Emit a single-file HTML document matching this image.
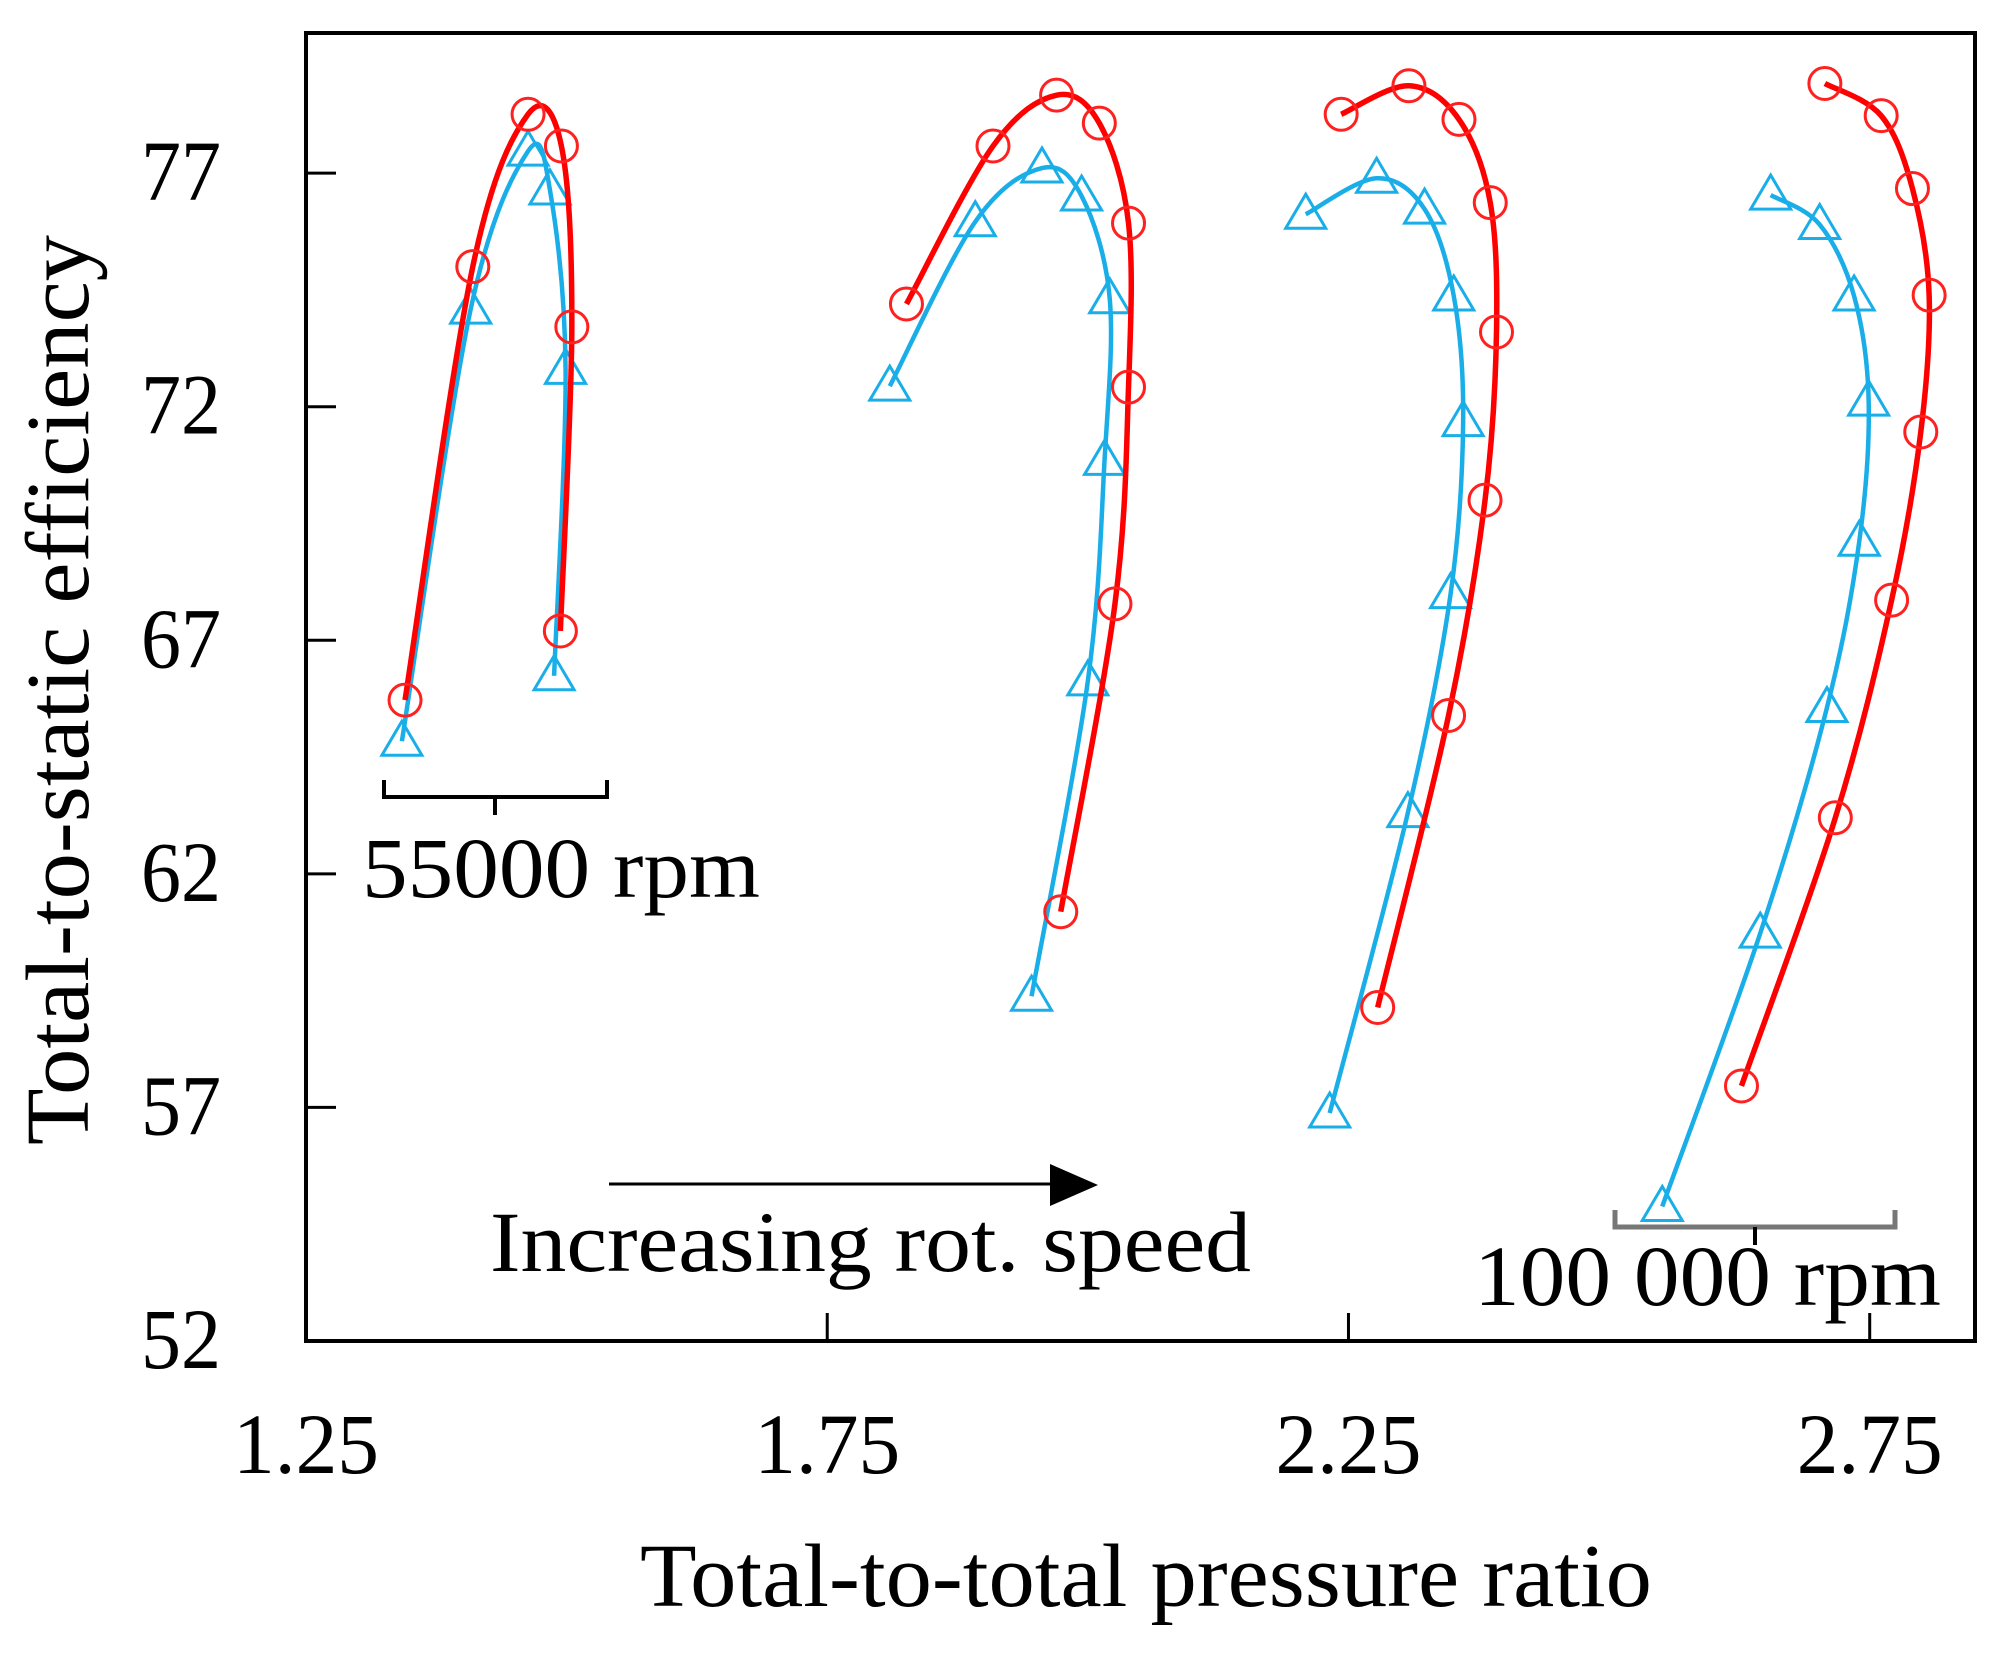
<!DOCTYPE html>
<html><head><meta charset="utf-8"><style>
html,body{margin:0;padding:0;background:#fff;}
svg{display:block;}
text{font-family:"Liberation Serif",serif;fill:#000;}
</style></head><body>
<svg id="chart" width="2012" height="1663" viewBox="0 0 2012 1663" xmlns="http://www.w3.org/2000/svg">
<rect x="306" y="33" width="1669" height="1308" fill="none" stroke="#000" stroke-width="4"/>
<g id="axes"></g>
<g id="series"></g>
<text transform="translate(88,1145) rotate(-90)" font-size="90" textLength="910" lengthAdjust="spacingAndGlyphs">Total-to-static efficiency</text>
<text x="640" y="1606" font-size="90" textLength="1012" lengthAdjust="spacingAndGlyphs">Total-to-total pressure ratio</text>
<g stroke="#000" stroke-width="4" fill="none">
<path d="M384 780 V797 H607 V780 M495 797 V815"/>
</g>
<text x="362" y="897" font-size="86" textLength="398" lengthAdjust="spacingAndGlyphs">55000 rpm</text>
<g stroke="#777" stroke-width="5" fill="none">
<path d="M1615 1210 V1227 H1895 V1210"/>
</g>
<path d="M1755 1227 V1245" stroke="#000" stroke-width="4"/>
<text x="1474" y="1305" font-size="86" textLength="467" lengthAdjust="spacingAndGlyphs">100 000 rpm</text>
<line x1="609" y1="1184" x2="1058" y2="1184" stroke="#000" stroke-width="3"/>
<polygon points="1050,1164 1098,1185 1050,1206" fill="#000"/>
<text x="490" y="1271" font-size="86" textLength="761" lengthAdjust="spacingAndGlyphs">Increasing rot. speed</text>
</svg>
<script>
const xTicks = [1.25, 1.75, 2.25, 2.75];
const xTickLabels = ["1.25", "1.75", "2.25", "2.75"];
const yTicks = [52, 57, 62, 67, 72, 77];
const yTickLabels = ["52", "57", "62", "67", "72", "77"];

const red1x = [1.345, 1.410, 1.463, 1.495, 1.505, 1.494];
const red1y = [65.72, 75.0, 78.26, 77.58, 73.71, 67.20];
const blue1x = [1.342, 1.408, 1.463, 1.484, 1.499, 1.488];
const blue1y = [64.84, 74.09, 77.47, 76.64, 72.80, 66.24];

const red2x = [1.826, 1.909, 1.970, 2.011, 2.039, 2.039, 2.026, 1.974];
const red2y = [74.20, 77.58, 78.67, 78.07, 75.93, 72.42, 67.78, 61.19];
const blue2x = [1.810, 1.892, 1.956, 1.994, 2.021, 2.016, 2.000, 1.946];
const blue2y = [72.44, 75.96, 77.11, 76.51, 74.31, 70.85, 66.13, 59.38];

const red3x = [2.243, 2.308, 2.356, 2.386, 2.392, 2.381, 2.346, 2.278];
const red3y = [78.26, 78.87, 78.15, 76.37, 73.60, 70.0, 65.39, 59.14];
const blue3x = [2.209, 2.277, 2.323, 2.351, 2.360, 2.348, 2.307, 2.232];
const blue3y = [76.12, 76.89, 76.23, 74.37, 71.68, 68.0, 63.31, 56.88];

const red4x = [2.707, 2.761, 2.791, 2.807, 2.799, 2.771, 2.717, 2.627];
const red4y = [78.92, 78.23, 76.67, 74.39, 71.46, 67.86, 63.20, 57.46];
const blue4x = [2.655, 2.702, 2.735, 2.749, 2.740, 2.709, 2.645, 2.551];
const blue4y = [76.53, 75.90, 74.37, 72.12, 69.12, 65.56, 60.73, 54.88];

const NS = "http://www.w3.org/2000/svg";
const X0 = 306, X1 = 1975, Y0 = 1341, Y1 = 33;
const xMin = 1.25, xMax = 2.851, yMin = 52, yMax = 80;
function sx(v){ return X0 + (v - xMin) / (xMax - xMin) * (X1 - X0); }
function sy(v){ return Y0 - (v - yMin) / (yMax - yMin) * (Y0 - Y1); }
function mk(tag, attrs, parent){ const e = document.createElementNS(NS, tag); for (const k in attrs) e.setAttribute(k, attrs[k]); parent.appendChild(e); return e; }

const axes = document.getElementById('axes');
xTicks.forEach((t, i) => {
  const x = sx(t);
  if (i > 0) {
    const tk = mk('line', {x1:x, y1:Y0, x2:x, y2:Y0-28, stroke:'#000', 'stroke-width':3}, axes);
    
    
  }
  const lb = mk('text', {x:x, y:1473, 'font-size':86, 'text-anchor':'middle', textLength:146, lengthAdjust:'spacingAndGlyphs'}, axes);
  lb.textContent = xTickLabels[i];
  
  
});
yTicks.forEach((t, i) => {
  const y = sy(t);
  if (i > 0) {
    const tk = mk('line', {x1:X0, y1:y, x2:X0+30, y2:y, stroke:'#000', 'stroke-width':3}, axes);
    
    
  }
  const lb = mk('text', {x:221, y:y+27, 'font-size':86, 'text-anchor':'end', textLength:80, lengthAdjust:'spacingAndGlyphs'}, axes);
  lb.textContent = yTickLabels[i];
  
  
});

function splinePath(px, py){
  const p = px.map((v, i) => [sx(v), sy(py[i])]);
  let d = 'M' + p[0][0] + ' ' + p[0][1];
  for (let i = 0; i < p.length - 1; i++) {
    const p0 = p[i-1] || p[i], p1 = p[i], p2 = p[i+1], p3 = p[i+2] || p[i+1];
    const c1x = p1[0] + (p2[0]-p0[0])/6, c1y = p1[1] + (p2[1]-p0[1])/6;
    const c2x = p2[0] - (p3[0]-p1[0])/6, c2y = p2[1] - (p3[1]-p1[1])/6;
    d += ' C' + c1x + ' ' + c1y + ' ' + c2x + ' ' + c2y + ' ' + p2[0] + ' ' + p2[1];
  }
  return d;
}
const series = document.getElementById('series');
function drawBlue(px, py, name){
  const g = mk('g', {}, series);
  
  
  const l = mk('path', {d:splinePath(px, py), fill:'none', stroke:'#1aaee8', 'stroke-width':4.5}, g);
  
  
  px.forEach((v, i) => {
    const x = sx(v), y = sy(py[i]);
    const m = mk('polygon', {points:(x-20)+','+(y+14)+' '+(x+20)+','+(y+14)+' '+x+','+(y-20), fill:'none', stroke:'#1aaee8', 'stroke-width':3}, g);
    
    
  });
}
function drawRed(px, py, name){
  const g = mk('g', {}, series);
  
  
  const l = mk('path', {d:splinePath(px, py), fill:'none', stroke:'#ff0000', 'stroke-width':5.5}, g);
  
  
  px.forEach((v, i) => {
    const m = mk('circle', {cx:sx(v), cy:sy(py[i]), r:16, fill:'none', stroke:'#ff2020', 'stroke-width':3}, g);
    
    
  });
}
drawBlue(blue1x, blue1y, 'blue-series-speed1');
drawRed(red1x, red1y, 'red-series-speed1');
drawBlue(blue2x, blue2y, 'blue-series-speed2');
drawRed(red2x, red2y, 'red-series-speed2');
drawBlue(blue3x, blue3y, 'blue-series-speed3');
drawRed(red3x, red3y, 'red-series-speed3');
drawBlue(blue4x, blue4y, 'blue-series-speed4');
drawRed(red4x, red4y, 'red-series-speed4');
</script>
</body></html>
